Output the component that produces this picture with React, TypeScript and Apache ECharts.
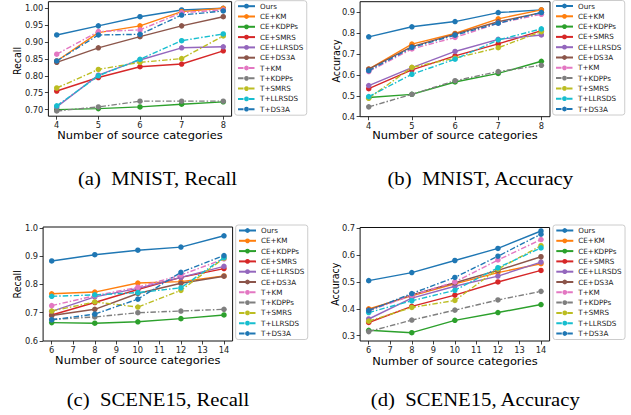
import React, { useEffect, useRef } from "react";
import * as echarts from "echarts";

const methods = ["Ours", "CE+KM", "CE+KDPPs", "CE+SMRS", "CE+LLRSDS", "CE+DS3A", "T+KM", "T+KDPPs", "T+SMRS", "T+LLRSDS", "T+DS3A"];
const colors = ["#1f77b4", "#ff7f0e", "#2ca02c", "#d62728", "#9467bd", "#8c564b", "#e377c2", "#7f7f7f", "#bcbd22", "#17becf", "#1f77b4"];

const mnistX = [4, 5, 6, 7, 8];
const sceneX = [6, 8, 10, 12, 14];
const mnistXTicks = [4, 5, 6, 7, 8];
const sceneXTicks = [6, 7, 8, 9, 10, 11, 12, 13, 14];
const mnistRecallTicks = [0.7, 0.75, 0.8, 0.85, 0.9, 0.95, 1.0];
const mnistAccTicks = [0.4, 0.5, 0.6, 0.7, 0.8, 0.9];
const sceneRecallTicks = [0.6, 0.7, 0.8, 0.9, 1.0];
const sceneAccTicks = [0.3, 0.4, 0.5, 0.6, 0.7];

// rows follow the order of `methods`
const mnistRecall = [
  [0.921, 0.948, 0.975, 0.995, 1.0],
  [0.844, 0.928, 0.948, 0.99, 1.0],
  [0.7, 0.703, 0.708, 0.716, 0.723],
  [0.755, 0.795, 0.827, 0.835, 0.874],
  [0.708, 0.802, 0.847, 0.883, 0.886],
  [0.84, 0.883, 0.916, 0.948, 0.975],
  [0.864, 0.931, 0.936, 0.987, 0.995],
  [0.696, 0.708, 0.725, 0.725, 0.725],
  [0.764, 0.819, 0.84, 0.851, 0.918],
  [0.711, 0.8, 0.849, 0.904, 0.924],
  [0.844, 0.921, 0.923, 0.98, 0.992],
];
const mnistAcc = [
  [0.782, 0.83, 0.855, 0.898, 0.911],
  [0.628, 0.747, 0.798, 0.868, 0.911],
  [0.492, 0.507, 0.566, 0.607, 0.665],
  [0.534, 0.624, 0.691, 0.748, 0.812],
  [0.549, 0.635, 0.712, 0.77, 0.791],
  [0.627, 0.735, 0.795, 0.854, 0.898],
  [0.616, 0.724, 0.779, 0.847, 0.89],
  [0.447, 0.507, 0.572, 0.616, 0.646],
  [0.488, 0.636, 0.68, 0.73, 0.807],
  [0.496, 0.603, 0.675, 0.767, 0.82],
  [0.62, 0.731, 0.79, 0.847, 0.898],
];
const sceneRecall = [
  [0.883, 0.905, 0.921, 0.932, 0.972],
  [0.767, 0.773, 0.805, 0.81, 0.83],
  [0.665, 0.663, 0.668, 0.679, 0.692],
  [0.692, 0.736, 0.782, 0.825, 0.856],
  [0.705, 0.756, 0.786, 0.825, 0.864],
  [0.69, 0.712, 0.768, 0.804, 0.829],
  [0.725, 0.76, 0.79, 0.833, 0.89],
  [0.676, 0.685, 0.7, 0.706, 0.712],
  [0.706, 0.738, 0.72, 0.779, 0.893],
  [0.758, 0.763, 0.771, 0.788, 0.895],
  [0.675, 0.695, 0.748, 0.843, 0.902],
];
const sceneAcc = [
  [0.505, 0.535, 0.58, 0.625, 0.69],
  [0.4, 0.448, 0.493, 0.535, 0.568],
  [0.32, 0.311, 0.357, 0.386, 0.416],
  [0.349, 0.409, 0.451, 0.5, 0.543],
  [0.362, 0.44, 0.484, 0.522, 0.574],
  [0.396, 0.452, 0.497, 0.543, 0.594],
  [0.392, 0.45, 0.5, 0.582, 0.658],
  [0.315, 0.358, 0.395, 0.433, 0.465],
  [0.354, 0.405, 0.431, 0.548, 0.635],
  [0.386, 0.43, 0.469, 0.553, 0.627],
  [0.393, 0.457, 0.517, 0.596, 0.678],
];

const captions = ["(a)\u2002MNIST, Recall", "(b)\u2002MNIST, Accuracy", "(c)\u2002SCENE15, Recall", "(d)\u2002SCENE15, Accuracy"];
const yTitles = ["Recall", "Accuracy", "Recall", "Accuracy"];
const xTitle = "Number of source categories";

const FONT = "DejaVu Sans";

const panels = [
  { data: mnistRecall, x: mnistX, xMin: 3.8, xMax: 8.2, xTicks: mnistXTicks, yMin: 0.6805, yMax: 1.0195, yTicks: mnistRecallTicks, dec: 2,
    grid: { left: 48.4, top: 1.7, width: 183.2, height: 114.5 }, legend: { left: 234.7, top: 0.7 },
    cap: { x: 157.5, y: 179 }, yt: { x: 16.7, y: 61 }, xt: { x: 140, y: 136 } },
  { data: mnistAcc, x: mnistX, xMin: 3.8, xMax: 8.2, xTicks: mnistXTicks, yMin: 0.4, yMax: 0.95, yTicks: mnistAccTicks, dec: 1,
    grid: { left: 360.1, top: 1.7, width: 189.9, height: 115 }, legend: { left: 552.7, top: 0.5 },
    cap: { x: 480.3, y: 179 }, yt: { x: 335.3, y: 61 }, xt: { x: 455, y: 136 } },
  { data: sceneRecall, x: sceneX, xMin: 5.6, xMax: 14.4, xTicks: sceneXTicks, yMin: 0.6, yMax: 1.003, yTicks: sceneRecallTicks, dec: 1,
    grid: { left: 43.1, top: 227.0, width: 189.5, height: 114 }, legend: { left: 235.7, top: 225 },
    cap: { x: 158, y: 399.6 }, yt: { x: 17, y: 284.3 }, xt: { x: 137.8, y: 361 } },
  { data: sceneAcc, x: sceneX, xMin: 5.6, xMax: 14.4, xTicks: sceneXTicks, yMin: 0.28, yMax: 0.703, yTicks: sceneAccTicks, dec: 1,
    grid: { left: 360.1, top: 227.5, width: 189.5, height: 113.5 }, legend: { left: 553, top: 225 },
    cap: { x: 475.3, y: 399.6 }, yt: { x: 335, y: 284.3 }, xt: { x: 455, y: 361.5 } },
];

function buildOption() {
  const grid: any[] = [];
  const xAxis: any[] = [];
  const yAxis: any[] = [];
  const series: any[] = [];
  const legend: any[] = [];
  const graphic: any[] = [];

  panels.forEach((p, pi) => {
    grid.push({ ...p.grid, show: true, borderColor: "#111", borderWidth: 1, backgroundColor: "#fff", containLabel: false });
    xAxis.push({
      type: "value", gridIndex: pi, min: p.xMin, max: p.xMax,
      axisLine: { show: false }, splitLine: { show: false },
      axisTick: { show: true, inside: false, length: 3.5, lineStyle: { color: "#111", width: 0.8 }, customValues: p.xTicks },
      axisLabel: { show: true, margin: 5, fontSize: 8.3, fontFamily: FONT, color: "#222", customValues: p.xTicks, showMinLabel: true, showMaxLabel: true, formatter: (v: number) => String(Math.round(v)) },
    });
    yAxis.push({
      type: "value", gridIndex: pi, min: p.yMin, max: p.yMax,
      axisLine: { show: false }, splitLine: { show: false },
      axisTick: { show: true, inside: false, length: 3.5, lineStyle: { color: "#111", width: 0.8 }, customValues: p.yTicks },
      axisLabel: { show: true, margin: 5, fontSize: 8.3, fontFamily: FONT, color: "#222", customValues: p.yTicks, showMinLabel: true, showMaxLabel: true, hideOverlap: false, formatter: (v: number) => v.toFixed(p.dec) },
    });
    p.data.forEach((row, si) => {
      series.push({
        type: "line", name: methods[si], xAxisIndex: pi, yAxisIndex: pi,
        data: row.map((v, i) => [p.x[i], v]),
        symbol: "circle", symbolSize: 5.5, showSymbol: true,
        color: colors[si],
        itemStyle: { color: colors[si] },
        lineStyle: { color: colors[si], width: 1.4, type: si >= 6 ? [5.5, 2, 1.5, 2] : "solid" },
        z: 2 + si * 0.01,
      });
    });
    legend.push({
      orient: "vertical", left: p.legend.left, top: p.legend.top,
      data: methods,
      itemWidth: 17, itemHeight: 6, itemGap: 3.3,
      padding: [2, 3.5, 2.5, 2.3],
      backgroundColor: "rgba(255,255,255,0.9)", borderColor: "#cccccc", borderWidth: 1, borderRadius: 2.5,
      textStyle: { fontSize: 7.2, fontFamily: FONT, color: "#222" },
      selectedMode: false,
    });
    graphic.push({
      type: "text", x: p.cap.x, y: p.cap.y, scaleX: 1.15,
      style: { text: captions[pi], x: 0, y: 0, fontSize: 18, fontFamily: "Liberation Serif", fill: "#000", align: "center", verticalAlign: "middle", textAlign: "center", textVerticalAlign: "middle" },
    });
    graphic.push({
      type: "text", x: p.yt.x, y: p.yt.y, rotation: Math.PI / 2, scaleX: 0.86,
      style: { text: yTitles[pi], x: 0, y: 0, fontSize: 11, fontFamily: FONT, fill: "#000", align: "center", verticalAlign: "middle", textAlign: "center", textVerticalAlign: "middle" },
    });
    graphic.push({
      type: "text", x: p.xt.x, y: p.xt.y, scaleX: 1.12,
      style: { text: xTitle, x: 0, y: 0, fontSize: 10.2, fontFamily: FONT, fill: "#000", align: "center", verticalAlign: "middle", textAlign: "center", textVerticalAlign: "middle" },
    });
  });

  return { animation: false, backgroundColor: "#fff", grid, xAxis, yAxis, series, legend, graphic };
}

export default function App() {
  const ref = useRef<HTMLDivElement>(null);
  useEffect(() => {
    if (!ref.current) return;
    const chart = echarts.init(ref.current, null, { renderer: "svg", width: 631, height: 415 });
    chart.setOption(buildOption() as any);
    return () => chart.dispose();
  }, []);
  return <div ref={ref} style={{ position: "fixed", left: 0, top: 0, width: 631, height: 415, background: "#fff" }} />;
}
